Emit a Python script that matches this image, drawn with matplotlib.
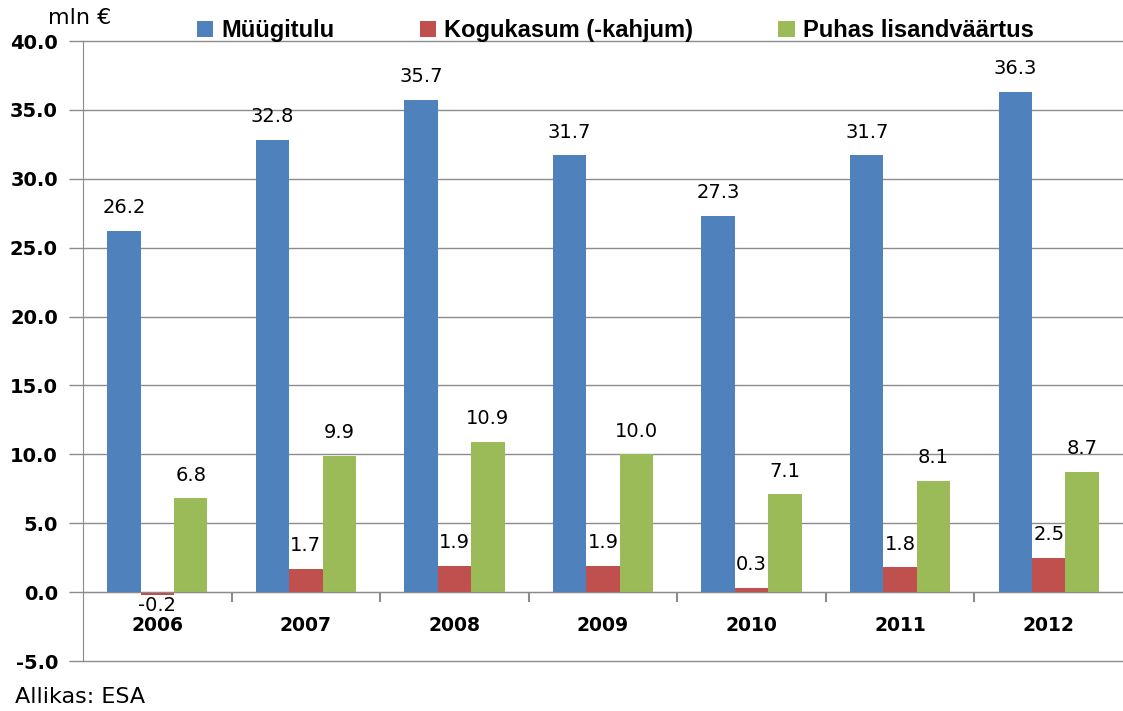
import matplotlib

matplotlib.use("Agg")
import matplotlib.pyplot as plt
import numpy as np
from matplotlib.patches import Patch

years = ["2006", "2007", "2008", "2009", "2010", "2011", "2012"]
series_names = ["Müügitulu", "Kogukasum (-kahjum)", "Puhas lisandväärtus"]
muugitulu = [26.2, 32.8, 35.7, 31.7, 27.3, 31.7, 36.3]
kogukasum = [-0.2, 1.7, 1.9, 1.9, 0.3, 1.8, 2.5]
lisandvaartus = [6.8, 9.9, 10.9, 10.0, 7.1, 8.1, 8.7]
colors = ["#4F81BD", "#C0504D", "#9BBB59"]
yticks = np.arange(-5, 40.1, 5)

fig = plt.figure(figsize=(11.23, 7.11), dpi=100)
ax = fig.add_axes([0.0739, 0.0703, 0.9261, 0.8720])

x = np.arange(len(years))
width = 0.225
grid_color = "#8c8c8c"

for i, (vals, col) in enumerate(zip([muugitulu, kogukasum, lisandvaartus], colors)):
    pos = x + (i - 1) * width
    ax.bar(pos, vals, width=width, color=col, zorder=3)
    for px, v in zip(pos, vals):
        if v < 0:
            ax.text(px, v - 0.1, f"{v:.1f}", ha="center", va="top", fontsize=14, zorder=4)
        else:
            ax.text(px, v + 1.0, f"{v:.1f}", ha="center", va="bottom", fontsize=14, zorder=4)

ax.set_xlim(-0.5, len(years) - 0.5)
ax.set_ylim(-5, 40)
ax.set_yticks(yticks)
ax.set_yticklabels([f"{t:.1f}" for t in yticks], fontsize=14, fontweight="bold")
for t in yticks:
    ax.axhline(t, color=grid_color, lw=1.0, zorder=1, clip_on=False)

ax.spines["bottom"].set_position(("data", 0))
ax.spines["bottom"].set_color(grid_color)
ax.spines["bottom"].set_zorder(5)
ax.spines["left"].set_color(grid_color)
ax.spines["top"].set_visible(False)
ax.spines["right"].set_visible(False)

ax.set_xticks(x)
ax.set_xticklabels(years, fontsize=13.5, fontweight="bold")
ax.tick_params(axis="x", which="major", length=0, pad=17)
ax.set_xticks(np.arange(0.5, len(years) - 1, 1), minor=True)
ax.tick_params(axis="x", which="minor", length=7, width=1.5, color=grid_color, direction="out")
ax.tick_params(axis="y", length=10, width=1, color=grid_color, pad=8)

fig.text(0.043, 0.974, "mln €", fontsize=16, va="center")
fig.text(0.013, 0.020, "Allikas: ESA", fontsize=16, va="center")

handles = [Patch(facecolor=c) for c in colors]
fig.legend(handles, series_names, loc="center", bbox_to_anchor=(0.548, 0.957), ncol=3,
           frameon=False, handlelength=0.7, handleheight=0.7, handletextpad=0.35,
           columnspacing=3.6, prop={"family": "Liberation Sans", "weight": "bold", "size": 17})

fig.savefig("out.png", dpi=100)
